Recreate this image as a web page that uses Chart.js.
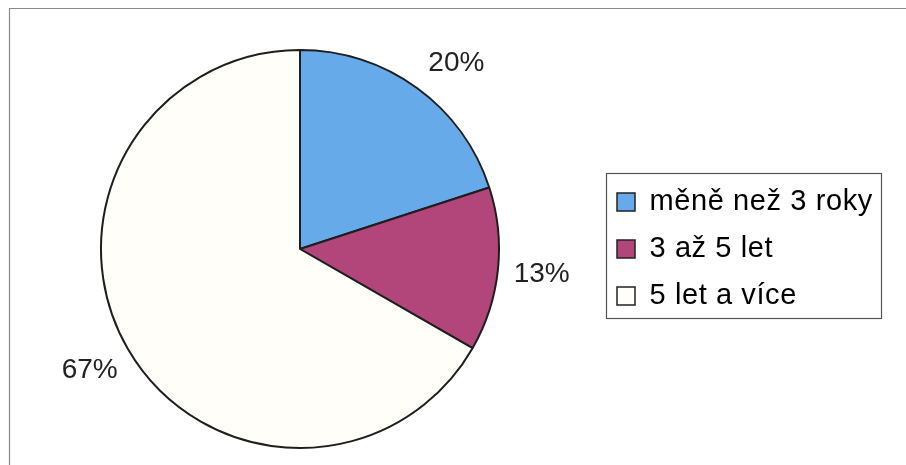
<!DOCTYPE html>
<html>
<head>
<meta charset="utf-8">
<script src="https://cdn.jsdelivr.net/npm/chart.js@4"></script>
<style>
  html, body { margin: 0; padding: 0; background: #fff; }
  #wrap { position: relative; width: 906px; height: 465px; }
</style>
</head>
<body>
<div id="wrap"><canvas id="pieChart"></canvas></div>
<script>
const categories = ['měně než 3 roky', '3 až 5 let', '5 let a více'];
const shares = [20, 13.3, 66.7];
const sliceColors = ['#66aaea', '#b2457a', '#fffef8'];

const fontFamily = '"Liberation Sans", Arial, sans-serif';
const labelSize = 28;
const legendSize = 29;
const legendSpacing = '0.6px';
const boxSize = 18;
const itemGap = 18;

// measure the widest legend entry so the legend ends up where it should
const probe = document.createElement('canvas').getContext('2d');
probe.font = legendSize + 'px ' + fontFamily;
probe.letterSpacing = legendSpacing;
const widest = Math.max(...categories.map(t => probe.measureText(t).width));
const legendWidth = itemGap + boxSize + legendSize / 2 + widest + 10;
const legendLeft = 599;
const rightPad = Math.max(0, 906 - legendLeft - legendWidth);

// outer frame (only top and left edges show)
const framePlugin = {
  id: 'frame',
  beforeLayout(chart) {
    chart.ctx.letterSpacing = legendSpacing;
  },
  beforeDraw(chart) {
    const c = chart.ctx;
    c.letterSpacing = legendSpacing;
    c.save();
    c.strokeStyle = '#8a8a8a';
    c.lineWidth = 1.2;
    c.beginPath();
    c.moveTo(9.5, chart.height);
    c.lineTo(9.5, 8.5);
    c.lineTo(chart.width, 8.5);
    c.stroke();
    c.restore();
  }
};

// box round the legend entries
const legendBoxPlugin = {
  id: 'legendBox',
  afterDraw(chart) {
    const boxes = chart.legend.legendHitBoxes;
    if (!boxes || !boxes.length) return;
    const first = boxes[0];
    const last = boxes[boxes.length - 1];
    const right = Math.max(...boxes.map(b => b.left + b.width));
    const c = chart.ctx;
    c.save();
    c.strokeStyle = '#555';
    c.lineWidth = 1.2;
    const x0 = Math.round(first.left - 11), y0 = Math.round(first.top - 15);
    c.strokeRect(x0 + 0.5, y0 + 0.5, Math.round(right + 8) - x0, Math.round(last.top + last.height + 7) - y0);
    c.restore();
  }
};

// percentage labels outside the slices, kept below the top of the plot
const pctLabelPlugin = {
  id: 'pctLabels',
  afterDatasetsDraw(chart) {
    const meta = chart.getDatasetMeta(0);
    const total = shares.reduce((a, b) => a + b, 0);
    const c = chart.ctx;
    const minY = chart.chartArea.top + 13;
    c.save();
    c.letterSpacing = '0px';
    c.font = labelSize + 'px ' + fontFamily;
    c.fillStyle = '#222';
    c.textAlign = 'center';
    c.textBaseline = 'middle';
    meta.data.forEach((arc, i) => {
      const p = arc.getProps(['x', 'y', 'startAngle', 'endAngle', 'outerRadius'], true);
      const mid = (p.startAngle + p.endAngle) / 2;
      const d = p.outerRadius + 44;
      let dx = Math.cos(mid) * d;
      let dy = Math.sin(mid) * d;
      if (p.y + dy < minY) {
        dy = minY - p.y;
        dx = Math.sign(dx) * Math.sqrt(d * d - dy * dy);
      }
      c.fillText(Math.round(shares[i] / total * 100) + '%', p.x + dx, p.y + dy);
    });
    c.restore();
  }
};

new Chart(document.getElementById('pieChart'), {
  type: 'pie',
  data: {
    labels: categories,
    datasets: [{
      data: shares,
      backgroundColor: sliceColors,
      borderColor: '#1e1e1e',
      borderWidth: 2,
      radius: 199
    }]
  },
  options: {
    responsive: true,
    maintainAspectRatio: false,
    animation: false,
    layout: { padding: { top: 50, bottom: 17, left: 1, right: rightPad } },
    plugins: {
      tooltip: { enabled: false },
      legend: {
        position: 'right',
        align: 'center',
        labels: {
          color: '#222',
          font: { family: fontFamily, size: legendSize },
          boxWidth: boxSize,
          boxHeight: boxSize,
          padding: itemGap,
          generateLabels(chart) {
            const ds = chart.data.datasets[0];
            return chart.data.labels.map((t, i) => ({
              text: t,
              fillStyle: ds.backgroundColor[i],
              strokeStyle: '#222',
              lineWidth: 1.5,
              index: i
            }));
          }
        }
      }
    }
  },
  plugins: [framePlugin, legendBoxPlugin, pctLabelPlugin]
});
</script>
</body>
</html>
